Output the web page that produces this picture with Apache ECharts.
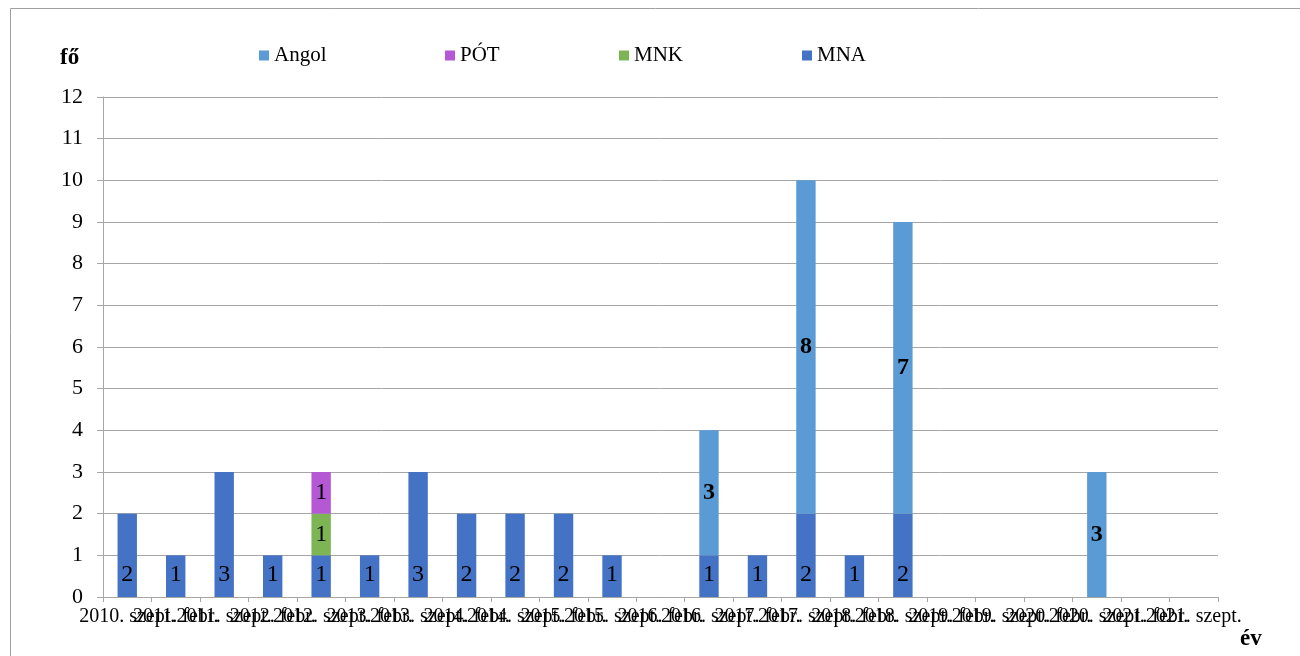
<!DOCTYPE html>
<html>
<head>
<meta charset="utf-8">
<script src="https://cdn.jsdelivr.net/npm/echarts@6/dist/echarts.min.js"></script>
<style>html,body{margin:0;padding:0;background:#fff}#c{width:1300px;height:656px}</style>
</head>
<body>
<div id="c"></div>
<script>
var categories = ["2010. szept.","2011. febr.","2011. szept.","2012. febr.","2012. szept.","2013. febr.","2013. szept.","2014. febr.","2014. szept.","2015. febr.","2015. szept.","2016. febr.","2016. szept.","2017. febr.","2017. szept.","2018. febr.","2018. szept.","2019. febr.","2019. szept.","2020. febr.","2020. szept.","2021. febr.","2021. szept."];
var mna   = [2,1,3,1,1,1,3,2,2,2,1,0,1,1,2,1,2,0,0,0,0,0,0];
var mnk   = [0,0,0,0,1,0,0,0,0,0,0,0,0,0,0,0,0,0,0,0,0,0,0];
var pot   = [0,0,0,0,1,0,0,0,0,0,0,0,0,0,0,0,0,0,0,0,0,0,0];
var angol = [0,0,0,0,0,0,0,0,0,0,0,0,3,0,8,0,7,0,0,0,3,0,0];
var yTicks = [0,1,2,3,4,5,6,7,8,9,10,11,12];

var FONT = '"Liberation Serif","Times New Roman",serif';
var colors = {Angol:'#5B9BD5', 'PÓT':'#B558D6', MNK:'#7DB454', MNA:'#4472C4'};
function fmt(p){ return p.value ? String(p.value) : ''; }

function mkLegend(name, left){
  return {data:[name], left:left, top:40, icon:'rect', itemWidth:10, itemHeight:10, itemGap:5,
    textStyle:{fontFamily:FONT, fontSize:21, color:'#000'}, selectedMode:false};
}
function mkSeries(name, data, label){
  return {name:name, type:'bar', stack:'s', data:data, barWidth:'40%',
    itemStyle:{color:colors[name]}, label:label, emphasis:{disabled:true}};
}

var chart = echarts.init(document.getElementById('c'), null, {renderer:'canvas'});
chart.setOption({
  animation:false,
  graphic:[
    {type:'rect', shape:{x:10.5,y:8.5,width:1400,height:800}, style:{fill:'none', stroke:'#A0A0A0', lineWidth:1}},
    {type:'text', left:60, top:47, style:{text:'fő', font:'bold 23px '+FONT, fill:'#000'}},
    {type:'text', left:1240, top:628, style:{text:'év', font:'bold 23px '+FONT, fill:'#000'}}
  ],
  legend:[mkLegend('Angol',254), mkLegend('PÓT',440), mkLegend('MNK',614), mkLegend('MNA',797)],
  grid:{left:103, right:82, top:97, bottom:59, containLabel:false},
  xAxis:{type:'category', data:categories, boundaryGap:true,
    axisLine:{lineStyle:{color:'#A6A6A6', width:1}},
    axisTick:{show:true, length:5, lineStyle:{color:'#A6A6A6'}},
    axisLabel:{interval:0, hideOverlap:false, fontFamily:FONT, fontSize:20, color:'#000', margin:10}},
  yAxis:{type:'value', min:0, max:12, interval:1,
    axisLine:{show:true, lineStyle:{color:'#A6A6A6', width:1}},
    axisTick:{show:true, length:6, lineStyle:{color:'#A6A6A6'}},
    axisLabel:{fontFamily:FONT, fontSize:22, color:'#000', margin:20,
      formatter:function(v){ return yTicks.indexOf(v)>=0 ? String(v) : ''; }},
    splitLine:{lineStyle:{color:'#A6A6A6', width:1}}},
  series:[
    mkSeries('MNA', mna, {show:true, position:'insideBottom', distance:10, fontFamily:FONT, fontSize:24, color:'#000', formatter:fmt}),
    mkSeries('MNK', mnk, {show:true, position:'inside', fontFamily:FONT, fontSize:24, color:'#000', formatter:fmt}),
    mkSeries('PÓT', pot, {show:true, position:'inside', fontFamily:FONT, fontSize:24, color:'#000', formatter:fmt}),
    mkSeries('Angol', angol, {show:true, position:'inside', fontFamily:FONT, fontSize:24, fontWeight:'bold', color:'#000', formatter:fmt})
  ]
});
</script>
</body>
</html>
